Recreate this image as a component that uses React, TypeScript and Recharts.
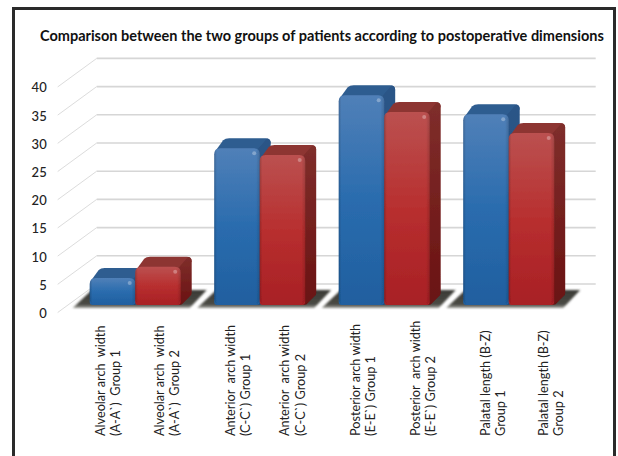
import React from 'react';
import { BarChart, Bar, XAxis, YAxis, CartesianGrid } from 'recharts';

const titleText = 'Comparison between the two groups of patients according to postoperative dimensions';
const categories = ['Alveolar', 'Anterior', 'Posterior', 'Palatal'];
const group1Values = [4.8, 27.8, 37.2, 33.8];
const group2Values = [6.8, 26.6, 34.2, 30.5];
const yTicks = [0, 5, 10, 15, 20, 25, 30, 35, 40];
const labelsGroup1 = [
  ['Alveolar arch  width', "(A-A`)  Group 1"],
  ['Anterior  arch width', "(C-C`) Group 1"],
  ['Posterior arch width', "(E-E`) Group 1"],
  ['Palatal length (B-Z)', 'Group 1'],
];
const labelsGroup2 = [
  ['Alveolar arch  width', "(A-A`)  Group 2"],
  ['Anterior  arch width', "(C-C`) Group 2"],
  ['Posterior  arch width', "(E-E`) Group 2"],
  ['Palatal length (B-Z)', 'Group 2'],
];
const labelOffsets = [
  [-30, 29],
  [-24.5, 30],
  [-24, 36],
  [-18.5, 39.5],
];

const data = categories.map((c, i) => ({ c, i, g1: group1Values[i], g2: group2Values[i] }));

const FONT = 'Lato, "Open Sans", sans-serif';
const DX = 11;
const DY = 10;

function Bar3D(props: any) {
  const { x, y, width, height, pal, shadow } = props;
  const r = Math.min(6, height / 2);
  const b = y + height;
  const tx = x + DX;
  const ty = y - DY;
  const R = x + width;
  return (
    <g>
      {shadow && (
        <polygon
          points={`${x - 17},${b + 3} ${x + 2},${b - 15} ${x + 117},${b - 15} ${x + 100},${b + 3}`}
          fill="url(#shadowFill)"
          filter="url(#blur)"
        />
      )}
      <g filter="url(#soft)">
        <path
          d={`M${x + 1},${y + 3} L${tx - 2},${ty + 2} Q${tx},${ty} ${tx + 4},${ty} L${R + DX - 5},${ty} Q${R + DX},${ty} ${R + DX},${ty + 5} L${R},${y + 4} Z`}
          fill={pal.top}
        />
        <path
          d={`M${R - 3},${y + 2} L${R + DX - 4},${ty + 0.5} Q${R + DX},${ty} ${R + DX},${ty + 5} L${R + DX},${b - DY - 2} Q${R + DX},${b - DY} ${R + DX - 2},${b - DY + 1.5} L${R + 1},${b - 0.5} L${R - 2},${b} Z`}
          fill={`url(#${pal.id}Side)`}
        />
        <path
          d={`M${x},${b - 3} L${x},${y + r} Q${x},${y} ${x + r},${y} L${R - r},${y} Q${R},${y} ${R},${y + r} L${R},${b - 3} Q${R},${b} ${R - 3},${b} L${x + 3},${b} Q${x},${b} ${x},${b - 3} Z`}
          fill={`url(#${pal.id}Front)`}
        />
        <rect x={x} y={y} width={width} height={height} rx={r} fill="url(#edgeShade)" />
        <circle cx={R - 5.5} cy={y + 5} r={2} fill="#ffffff" opacity={0.3} />
      </g>
    </g>
  );
}

const bluePal = { id: 'blue', top: '#2f5d90' };
const redPal = { id: 'red', top: '#8d3433' };

function GridLine(props: any) {
  const { x1, x2, y1 } = props;
  return (
    <g>
      <line x1={x1 - 15} y1={y1 + 7.5} x2={x1 + 24} y2={y1 - 21} stroke="#dcdcdc" strokeWidth={1} />
      <line x1={x1 + 24} y1={y1 - 21} x2={x2 + 25} y2={y1 - 21} stroke="#d6d6d6" strokeWidth={1.6} />
    </g>
  );
}

function YTick(props: any) {
  const { x, y, payload } = props;
  return (
    <text x={x - 26} y={y + 7.5} dy={5.5} textAnchor="end" fontFamily={FONT} fontWeight={500} fontSize={13} fill="#222">
      {payload.value}
    </text>
  );
}

function XTick(props: any) {
  const { x, payload } = props;
  const i = payload.index;
  const cols = [
    { lines: labelsGroup1[i], x: x + labelOffsets[i][0] },
    { lines: labelsGroup2[i], x: x + labelOffsets[i][1] },
  ];
  return (
    <g>
      {cols.map((col, k) =>
        col.lines.map((t: string, j: number) => (
          <text
            key={k + '-' + j}
            transform={`translate(${col.x + j * 15.5},436) rotate(-90)`}
            fontFamily={FONT}
            fontSize={12.7}
            fill="#222"
            style={{ whiteSpace: 'pre' }}
          >
            {t}
          </text>
        ))
      )}
    </g>
  );
}

export default function App() {
  return (
    <div style={{ position: 'absolute', left: 0, top: 0, width: 618, height: 456, background: '#fff', overflow: 'hidden' }}>
      <div style={{ position: 'absolute', left: 12, top: 7, width: 604, height: 470, boxSizing: 'border-box', border: '3px solid #2a2a2a' }} />
      <BarChart
        width={618}
        height={456}
        data={data}
        barGap={0}
        barSize={45.5}
        margin={{ top: 79.4, right: 47.3, bottom: 150, left: 22.7 }}
        style={{ position: 'absolute', left: 0, top: 0 }}
      >
        <defs>
          <linearGradient id="blueFront" x1="0" y1="0" x2="0" y2="1">
            <stop offset="0" stopColor="#5080b8" />
            <stop offset="0.5" stopColor="#2a6cae" />
            <stop offset="1" stopColor="#205f9f" />
          </linearGradient>
          <linearGradient id="redFront" x1="0" y1="0" x2="0" y2="1">
            <stop offset="0" stopColor="#bb5150" />
            <stop offset="0.5" stopColor="#b82f2f" />
            <stop offset="1" stopColor="#a82025" />
          </linearGradient>
          <linearGradient id="blueSide" x1="0" y1="0" x2="0" y2="1">
            <stop offset="0" stopColor="#2b5587" />
            <stop offset="1" stopColor="#1a4a7e" />
          </linearGradient>
          <linearGradient id="redSide" x1="0" y1="0" x2="0" y2="1">
            <stop offset="0" stopColor="#7f2e2b" />
            <stop offset="1" stopColor="#6a1212" />
          </linearGradient>
          <linearGradient id="edgeShade" x1="0" y1="0" x2="1" y2="0">
            <stop offset="0" stopColor="#000" stopOpacity={0.18} />
            <stop offset="0.06" stopColor="#000" stopOpacity={0} />
            <stop offset="0.92" stopColor="#000" stopOpacity={0} />
            <stop offset="1" stopColor="#000" stopOpacity={0.15} />
          </linearGradient>
          <linearGradient id="shadowFill" x1="0" y1="0" x2="0" y2="1">
            <stop offset="0" stopColor="#3a3a36" />
            <stop offset="0.8" stopColor="#4a4a44" />
            <stop offset="1" stopColor="#a0a09a" />
          </linearGradient>
          <filter id="soft" x="-30%" y="-30%" width="160%" height="160%">
            <feGaussianBlur stdDeviation="0.45" />
          </filter>
          <filter id="blur" x="-10%" y="-30%" width="120%" height="160%">
            <feGaussianBlur stdDeviation="1.2" />
          </filter>
        </defs>
        <text x={40} y={41} fontFamily={FONT} fontWeight={700} fontSize={14.5} fill="#111">
          {titleText}
        </text>
        <CartesianGrid vertical={false} horizontal={(p: any) => <GridLine key={p.key} {...p} />} />
        <XAxis dataKey="c" height={1} axisLine={false} tickLine={false} tick={<XTick />} interval={0} />
        <YAxis domain={[0, 40]} ticks={yTicks} axisLine={false} tickLine={false} tickSize={0} tickMargin={0} tick={<YTick />} width={50} />
        <Bar dataKey="g1" isAnimationActive={false} shape={<Bar3D pal={bluePal} shadow />} />
        <Bar dataKey="g2" isAnimationActive={false} shape={<Bar3D pal={redPal} />} />
      </BarChart>
    </div>
  );
}
